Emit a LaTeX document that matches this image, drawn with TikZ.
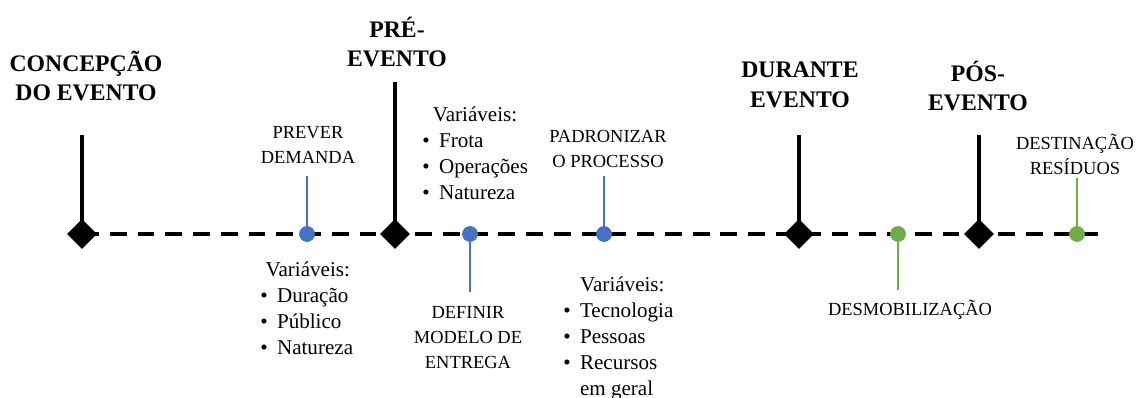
\documentclass[tikz,border=0pt]{standalone}
\usepackage{fontspec}
\setmainfont{Liberation Serif}
\usetikzlibrary{shapes.geometric}
\definecolor{azul}{RGB}{68,114,196}
\definecolor{verde}{RGB}{112,173,71}
\newcommand{\itm}[1]{\makebox[9.5pt][l]{\textbullet}#1}
\tikzset{
	marco/.style={diamond,fill=black,inner sep=0pt,minimum size=17pt},
	ponto/.style={circle,fill=#1,inner sep=0pt,minimum size=9pt},
	titulo/.style={font=\fontsize{13.5}{17}\selectfont\bfseries,align=center,inner sep=0pt},
	rotulo/.style={font=\fontsize{10.5}{14.2}\selectfont,align=center,inner sep=0pt},
	lista/.style={font=\fontsize{12}{14.9}\selectfont,align=left,inner sep=0pt,anchor=north west},
	haste/.style={line width=2.8pt},
	tracejado/.style={line width=2.5pt,dash pattern=on 9.6pt off 6.2pt},
	fio/.style={draw=#1,line width=0.6pt}
}
\begin{document}
\begin{tikzpicture}[x=0.02cm,y=-0.02cm]
\useasboundingbox (0,0) rectangle (1140,398);
%linha do tempo
\coordinate (ini) at (82,234);
\coordinate (fim) at (1100,234);
\draw[tracejado] (ini) -- (fim);

%marcos
\foreach \n/\x/\t in {1/82/135,2/395/82,3/799/135,4/979/135}{
	\coordinate (t\n) at (\x,\t);
	\node[marco] (m\n) at (\x,234) {};
	\draw[haste] (m\n.center) -- (t\n);
}
\node[titulo] (c1) at (86,76) {CONCEPÇÃO\\DO EVENTO};
\node[titulo] (c2) at (397,42) {PRÉ-\\EVENTO};
\node[titulo] (c3) at (800,85) {DURANTE\\EVENTO};
\node[titulo] (c4) at (978,86) {PÓS-\\EVENTO};

%acoes
\node[ponto=azul] (p1) at (307,234) {};
\node[ponto=azul] (p2) at (470,234) {};
\node[ponto=azul] (p3) at (604,234) {};
\node[ponto=verde] (p4) at (898,234) {};
\node[ponto=verde] (p5) at (1077,234) {};

\node[rotulo] (r1) at (308,145) {PREVER\\DEMANDA};
\node[rotulo] (r2) at (468,338) {DEFINIR\\MODELO DE\\ENTREGA};
\node[rotulo] (r3) at (608,149) {PADRONIZAR\\O PROCESSO};
\node[rotulo] (r4) at (910,310) {DESMOBILIZAÇÃO};
\node[rotulo] (r5) at (1075,154) {DESTINAÇÃO\\RESÍDUOS};

\coordinate (f1) at (307,176);
\coordinate (f2) at (470,292);
\coordinate (f3) at (604,176);
\coordinate (f4) at (898,290);
\coordinate (f5) at (1077,178);
\draw[fio=azul] (p1) -- (f1);
\draw[fio=azul] (p2) -- (f2);
\draw[fio=azul] (p3) -- (f3);
\draw[fio=verde] (p4) -- (f4);
\draw[fio=verde] (p5) -- (f5);

%variaveis
\node[lista] (v1) at (260,261) {\hspace{3pt}Variáveis:\\\itm{Duração}\\\itm{Público}\\\itm{Natureza}};
\node[lista] (v2) at (422,106) {\hspace{6pt}Variáveis:\\\itm{Frota}\\\itm{Operações}\\\itm{Natureza}};
\node[lista] (v3) at (563,276) {\hspace{9.6pt}Variáveis:\\\itm{Tecnologia}\\\itm{Pessoas}\\\itm{Recursos}\\\hspace{9.5pt}em geral};
\end{tikzpicture}
\end{document}
